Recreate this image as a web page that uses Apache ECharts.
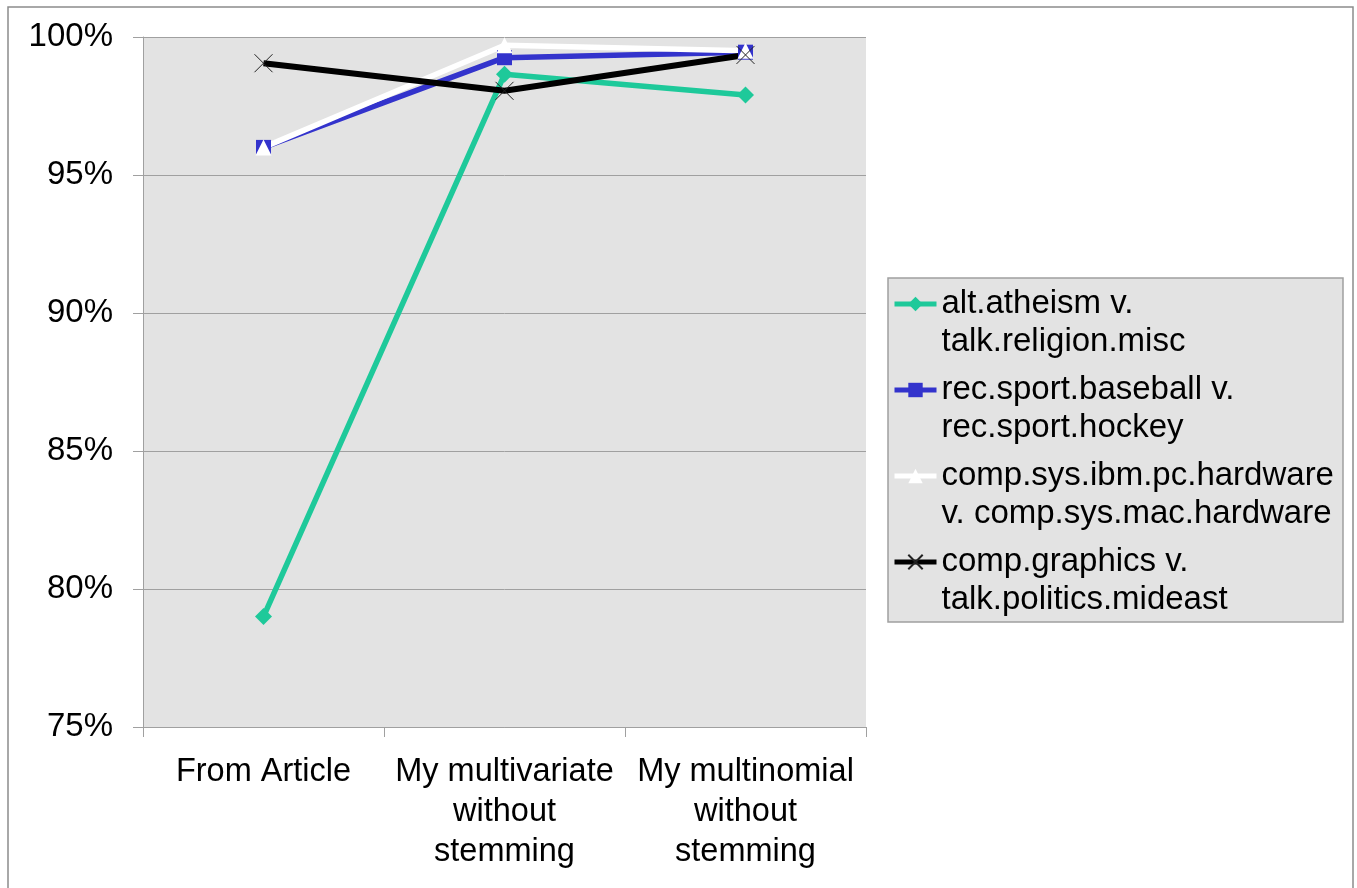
<!DOCTYPE html>
<html>
<head>
<meta charset="utf-8">
<script src="https://cdn.jsdelivr.net/npm/echarts@6/dist/echarts.min.js"></script>
<style>html,body{margin:0;padding:0;background:#fff}#c{width:1357px;height:888px}</style>
</head>
<body>
<div id="c"></div>
<script>
const categories = ['From Article', 'My multivariate\nwithout\nstemming', 'My multinomial\nwithout\nstemming'];
const seriesNames = [
  'alt.atheism v.\ntalk.religion.misc',
  'rec.sport.baseball v.\nrec.sport.hockey',
  'comp.sys.ibm.pc.hardware\nv. comp.sys.mac.hardware',
  'comp.graphics v.\ntalk.politics.mideast'
];
const atheismValues = [79.0, 98.65, 97.9];
const baseballValues = [96.0, 99.25, 99.45];
const ibmMacValues = [96.0, 99.7, 99.5];
const graphicsValues = [99.05, 98.05, 99.35];
const yTicks = { min: 75, max: 100, interval: 5 };

const font = 'Liberation Sans, Arial, sans-serif';
const chart = echarts.init(document.getElementById('c'));
const crossPath = 'path://M0,0L10,10M10,0L0,10';

function mk(name, data, color, symbol, size, width, extraItem) {
  return {
    name: name, type: 'line', data: data,
    symbol: symbol, symbolSize: size,
    lineStyle: { color: color, width: width },
    itemStyle: Object.assign({ color: color }, extraItem || {}),
    emphasis: { disabled: true },
    animation: false
  };
}

chart.setOption({
  backgroundColor: '#fff',
  animation: false,
  graphic: [
    { type: 'rect', shape: { x: 8, y: 7, width: 1345, height: 900 }, style: { fill: 'none', stroke: '#8c8c8c', lineWidth: 1.5 }, z: -10, silent: true },
    { type: 'rect', shape: { x: 888, y: 278, width: 455, height: 344 }, style: { fill: '#e3e3e3', stroke: '#a0a0a0', lineWidth: 1.5 }, z: -5, silent: true }
  ],
  grid: { left: 143, right: 491, top: 37, bottom: 161, show: true, backgroundColor: '#e3e3e3', borderWidth: 0 },
  legend: {
    orient: 'vertical', left: 892, top: 247, padding: 0, itemGap: -28,
    itemWidth: 42, itemHeight: 18,
    data: seriesNames,
    formatter: function (n) { return '\n' + n; },
    lineStyle: { width: 5 },
    textStyle: { fontFamily: font, fontSize: 33, lineHeight: 38, color: '#000' },
    selectedMode: false
  },
  xAxis: {
    type: 'category', data: categories, boundaryGap: true,
    axisLine: { show: true, lineStyle: { color: '#a0a0a0', width: 1 } },
    axisTick: { show: true, length: 10, lineStyle: { color: '#a0a0a0' } },
    axisLabel: { fontFamily: font, fontSize: 32.5, lineHeight: 40, color: '#000', margin: 25, interval: 0 },
    splitLine: { show: false }
  },
  yAxis: {
    type: 'value', min: yTicks.min, max: yTicks.max, interval: yTicks.interval,
    axisLine: { show: true, lineStyle: { color: '#a0a0a0', width: 1 } },
    axisTick: { show: true, length: 10, lineStyle: { color: '#a0a0a0' } },
    axisLabel: { fontFamily: font, fontSize: 33, color: '#000', margin: 30, formatter: '{value}%' },
    splitLine: { show: true, lineStyle: { color: '#a0a0a0', width: 1 } }
  },
  series: [
    mk(seriesNames[0], atheismValues, '#1ec99a', 'diamond', 17, 5.5),
    mk(seriesNames[1], baseballValues, '#3333cc', 'rect', 15, 5.5),
    mk(seriesNames[2], ibmMacValues, '#ffffff', 'triangle', 16, 5.5),
    mk(seriesNames[3], graphicsValues, '#000000', crossPath, 18, 6, { borderColor: '#222', borderWidth: 1 })
  ]
});
</script>
</body>
</html>
